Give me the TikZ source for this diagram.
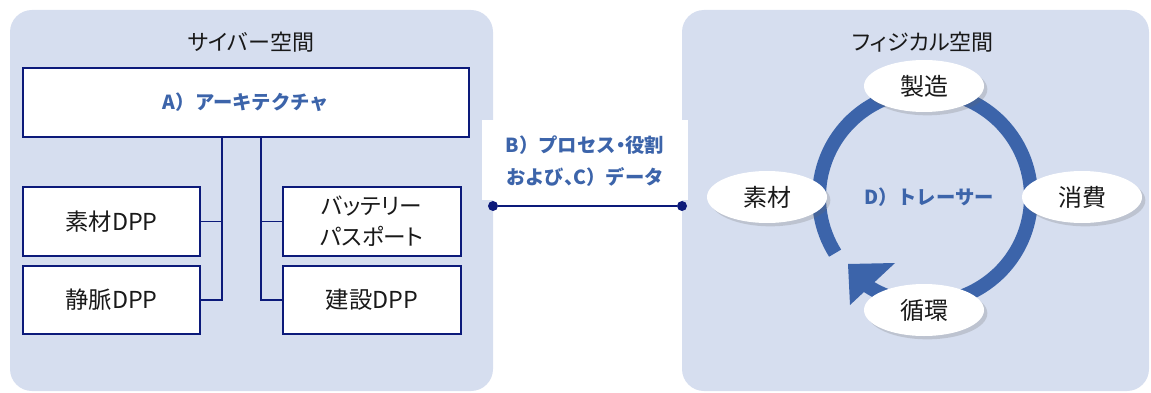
\documentclass[tikz,border=0pt]{standalone}
\usepackage{fontspec}
\setmainfont{Noto Sans CJK JP}
\newfontfamily\pfont{Noto Sans CJK JP}[RawFeature=+palt]
\usetikzlibrary{shadows,calc,shapes.geometric}
\definecolor{panel}{RGB}{214,222,239}
\definecolor{navy}{RGB}{12,26,122}
\definecolor{accent}{RGB}{60,100,170}
\definecolor{ink}{RGB}{25,25,25}
\begin{document}
\begin{tikzpicture}[x=0.75pt,y=-0.75pt,
  panelbg/.style={fill=panel, rounded corners=16.5pt},
  title/.style={text=ink, font=\pfont\fontsize{16.5}{20}\selectfont},
  dppbox/.style={draw=navy, line width=1.5pt, fill=white, text=ink, inner sep=0pt,
     font=\fontsize{17.5}{22}\selectfont, align=center},
  bluetext/.style={text=accent, font=\bfseries\fontsize{14.5}{24}\selectfont, align=center},
  tree/.style={draw=navy, line width=0.9pt},
  dot/.style={circle, fill=navy, inner sep=0pt, minimum size=7.5pt},
  link/.style={draw=navy, line width=1.6pt},
  stage/.style={ellipse, fill=white, inner sep=0pt, minimum width=90pt, minimum height=39pt,
     text=ink, font=\fontsize{18}{22}\selectfont,
     drop shadow={shadow xshift=2.5pt, shadow yshift=-2.5pt, opacity=0.22, fill=black!60}},
  ring/.style={draw=accent, line width=10.5pt},
]
\useasboundingbox (0,0) rectangle (1151,392);
% panels
\fill[panelbg] (10,10) rectangle (493,391);
\fill[panelbg] (682,10) rectangle (1149,391);
\node[title] (tcyber) at (251,42) {サイバー空間};
\node[title] (tphys) at (923,42) {フィジカル空間};

% cyber space
\node[dppbox, minimum width=334.5pt, minimum height=51.75pt] (arch) at (246,102.5)
  {\textcolor{accent}{\bfseries\fontsize{14.5}{20}\selectfont A）アーキテクチャ}};
\node[dppbox, minimum width=132.75pt, minimum height=51.75pt] (sozai) at (111.5,221.5) {素材DPP};
\node[dppbox, minimum width=132.75pt, minimum height=51pt] (jomyaku) at (111.5,300) {静脈DPP};
\node[dppbox, minimum width=133.5pt, minimum height=51.75pt, font=\pfont\fontsize{17}{23}\selectfont] (battery) at (372,221.5) {バッテリー\\パスポート};
\node[dppbox, minimum width=133.5pt, minimum height=51pt] (kensetsu) at (372,300) {建設DPP};
\coordinate (jl) at (222,0);
\coordinate (jr) at (261,0);
\draw[tree] (arch.south -| jl) |- (jomyaku.east);
\draw[tree] (sozai.east) -- (sozai.east -| jl);
\draw[tree] (arch.south -| jr) |- (kensetsu.west);
\draw[tree] (battery.west) -- (battery.west -| jr);

% middle label and link
\node[fill=white, minimum width=154.5pt, minimum height=60pt, inner sep=0pt] (lbl) at (585,160) {};
\node[bluetext] (lbltext) at (585,161) {B）プロセス{\pfont\bfseries ・}役割\\および{\pfont\bfseries 、}C）データ};
\node[dot] (dl) at (493,206) {};
\node[dot] (dr) at (682,206) {};
\draw[link] (dl) -- (dr);

% physical space cycle
\coordinate (rc) at (925,197);
\draw[ring] ($(rc)+(148:106)$) arc[start angle=148, end angle=450, radius=106];
\draw[ring] ($(rc)+(90:106)$) arc[start angle=90, end angle=125, radius=106];
\fill[accent] (850,305) -- (848,264) -- (895,263) -- cycle;
\node[bluetext] (tracer) at (929,197) {D）トレーサー};
\node[stage] (seizo) at (924,86) {製造};
\node[stage] (sozai2) at (767,197) {素材};
\node[stage] (shohi) at (1082,197) {消費};
\node[stage] (junkan) at (924,310) {循環};
\end{tikzpicture}
\end{document}
